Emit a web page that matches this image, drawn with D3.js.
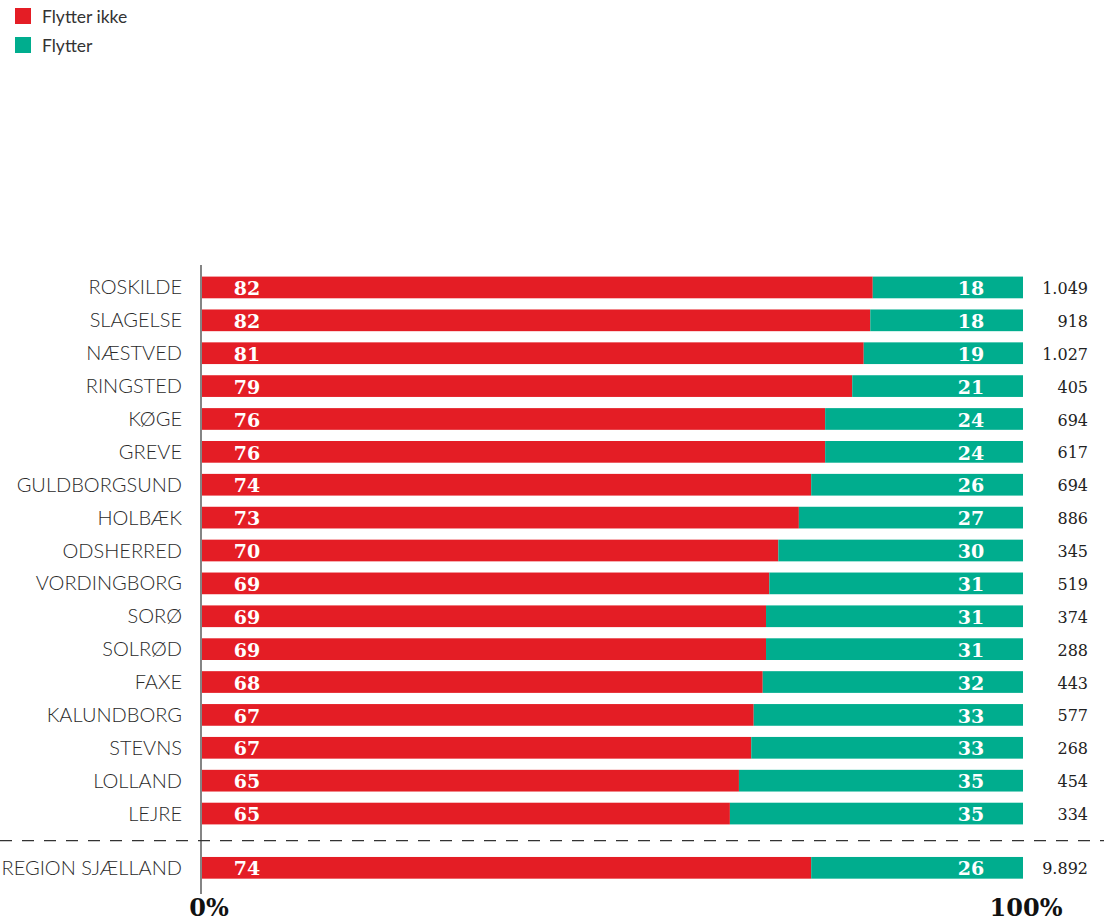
<!DOCTYPE html>
<html>
<head>
<meta charset="utf-8">
<script src="https://cdn.jsdelivr.net/npm/d3@7"></script>
<style>
  body { margin: 0; background: #fff; }
  svg { display: block; }
</style>
</head>
<body>
<script>
const width = 1104;
const height = 921;

// kommuner, sorted as in the chart
const kommuner = ["ROSKILDE", "SLAGELSE", "NÆSTVED", "RINGSTED", "KØGE", "GREVE",
  "GULDBORGSUND", "HOLBÆK", "ODSHERRED", "VORDINGBORG", "SORØ", "SOLRØD", "FAXE",
  "KALUNDBORG", "STEVNS", "LOLLAND", "LEJRE"];
// share that does not move (pct)
const flytterIkke = [81.7, 81.4, 80.6, 79.2, 75.9, 75.9, 74.2, 72.7, 70.2, 69.1,
  68.7, 68.7, 68.3, 67.2, 66.9, 65.4, 64.3];
// printed labels
const ikkeLabels = [82, 82, 81, 79, 76, 76, 74, 73, 70, 69, 69, 69, 68, 67, 67, 65, 65];
const flytterLabels = [18, 18, 19, 21, 24, 24, 26, 27, 30, 31, 31, 31, 32, 33, 33, 35, 35];
const antal = ["1.049", "918", "1.027", "405", "694", "617", "694", "886", "345",
  "519", "374", "288", "443", "577", "268", "454", "334"];

const region = "REGION SJÆLLAND";
const regionIkke = 74.2;
const regionLabels = [74, 26];
const regionAntal = "9.892";

const red = "#e41d25";
const green = "#00ad8e";
const sansFont = "Lato, 'Open Sans', sans-serif";
const serifFont = "'DejaVu Serif', 'Liberation Serif', serif";

const rows = kommuner.map((k, i) => ({
  name: k, ikke: flytterIkke[i], l1: ikkeLabels[i], l2: flytterLabels[i], n: antal[i]
}));

const svg = d3.select("body").append("svg")
  .attr("width", width)
  .attr("height", height);

const x = d3.scaleLinear().domain([0, 100]).range([202, 1023]);
const y = d3.scaleBand().domain(kommuner).range([271, 830]).paddingInner(0.34).paddingOuter(0.17);
const step = y.step();
const bh = y.bandwidth();
const regionY = y("LEJRE") + step * 1.65;

rows.push({ name: region, ikke: regionIkke, l1: regionLabels[0], l2: regionLabels[1], n: regionAntal });
const yPos = d => d.name === region ? regionY : y(d.name);

// legend
const legend = svg.append("g");
[["Flytter ikke", red], ["Flytter", green]].forEach((d, i) => {
  legend.append("rect")
    .attr("x", 15).attr("y", 8 + i * 29)
    .attr("width", 16).attr("height", 16)
    .attr("fill", d[1]);
  legend.append("text")
    .attr("x", 42).attr("y", 17 + i * 29)
    .attr("dy", "0.35em")
    .attr("font-family", sansFont)
    .attr("font-size", 17.5)
    .attr("fill", "#333")
    .text(d[0]);
});

const row = svg.selectAll("g.row")
  .data(rows)
  .join("g")
  .attr("class", "row")
  .attr("transform", d => `translate(0,${yPos(d)})`);

row.append("rect")
  .attr("x", x(0))
  .attr("height", bh)
  .attr("width", d => x(d.ikke) - x(0))
  .attr("fill", red);

row.append("rect")
  .attr("x", d => x(d.ikke))
  .attr("height", bh)
  .attr("width", d => x(100) - x(d.ikke))
  .attr("fill", green);

row.append("text")
  .attr("x", x(0) + 45)
  .attr("y", bh / 2 + 1)
  .attr("dy", "0.35em")
  .attr("text-anchor", "middle")
  .attr("font-family", serifFont)
  .attr("font-weight", "bold")
  .attr("font-size", 19)
  .attr("fill", "#fff")
  .text(d => d.l1);

row.append("text")
  .attr("x", x(100) - 52)
  .attr("y", bh / 2 + 1)
  .attr("dy", "0.35em")
  .attr("text-anchor", "middle")
  .attr("font-family", serifFont)
  .attr("font-weight", "bold")
  .attr("font-size", 19)
  .attr("fill", "#fff")
  .text(d => d.l2);

row.append("text")
  .attr("x", 182)
  .attr("y", bh / 2)
  .attr("dy", "0.35em")
  .attr("text-anchor", "end")
  .attr("font-family", sansFont)
  .attr("font-weight", 300)
  .attr("font-size", 20)
  .attr("fill", "#2a2a2a")
  .text(d => d.name);

row.append("text")
  .attr("x", 1088)
  .attr("y", bh / 2 + 1)
  .attr("dy", "0.35em")
  .attr("text-anchor", "end")
  .attr("font-family", serifFont)
  .attr("font-size", 16)
  .attr("fill", "#222")
  .text(d => d.n);

// axis line
svg.append("line")
  .attr("x1", x(0) - 1).attr("x2", x(0) - 1)
  .attr("y1", 265).attr("y2", 894)
  .attr("stroke", "#333").attr("stroke-width", 1.2);

// dashed separator
svg.append("line")
  .attr("x1", 0).attr("x2", width)
  .attr("y1", (y("LEJRE") + bh + regionY) / 2).attr("y2", (y("LEJRE") + bh + regionY) / 2)
  .attr("stroke", "#333").attr("stroke-width", 1.2)
  .attr("stroke-dasharray", "12,10");

// 0% and 100%
svg.selectAll("text.tick")
  .data([0, 100])
  .join("text")
  .attr("class", "tick")
  .attr("x", d => x(d) + (d === 0 ? 7 : 3))
  .attr("y", 916)
  .attr("text-anchor", "middle")
  .attr("font-family", serifFont)
  .attr("font-weight", "bold")
  .attr("font-size", 24)
  .attr("fill", "#111")
  .text(d => d + "%");
</script>
</body>
</html>
